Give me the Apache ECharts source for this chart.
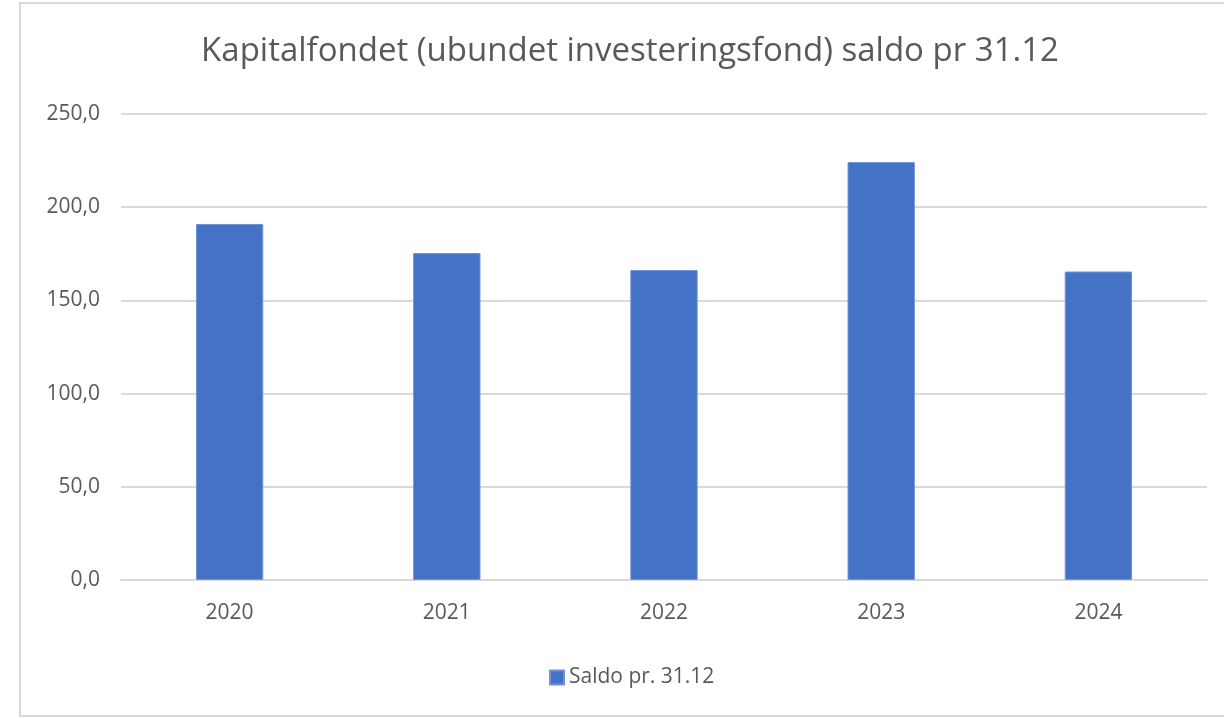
<!DOCTYPE html>
<html>
<head>
<meta charset="utf-8">
<script src="https://cdn.jsdelivr.net/npm/echarts@6/dist/echarts.min.js"></script>
<style>
    html, body { margin: 0; padding: 0; background: #fff; }
    #chart { width: 1224px; height: 718px; }
</style>
</head>
<body>
<div id="chart"></div>
<script>
    // data
    var years = ['2020', '2021', '2022', '2023', '2024'];
    var saldo = [191.0, 175.4, 166.3, 224.2, 165.5];
    var yTicks = [0, 50, 100, 150, 200, 250];
    var seriesName = 'Saldo pr. 31.12';
    var titleText = 'Kapitalfondet (ubundet investeringsfond) saldo pr 31.12';

    var font = '"Open Sans", "Noto Sans", sans-serif';
    var textColor = '#595959';

    var myChart = echarts.init(document.getElementById('chart'));
    myChart.setOption({
        animation: false,
        backgroundColor: '#fff',
        title: {
            text: titleText,
            left: 625,
            textAlign: 'center',
            top: 30,
            textStyle: { fontFamily: font, fontSize: 33, fontWeight: 'normal', color: textColor }
        },
        graphic: [{
            type: 'rect',
            shape: { x: 20, y: 3, width: 1230, height: 713 },
            style: { fill: 'none', stroke: '#d9d9d9', lineWidth: 2 },
            silent: true
        }],
        legend: {
            data: [seriesName],
            left: 544,
            top: 662,
            itemWidth: 14,
            itemHeight: 14,
            itemGap: 6,
            icon: 'rect',
            textStyle: { fontFamily: font, fontSize: 21, color: textColor }
        },
        grid: { left: 121, right: 17, top: 114, bottom: 138 },
        xAxis: {
            type: 'category',
            data: years,
            axisLine: { lineStyle: { color: '#d9d9d9', width: 2 } },
            axisTick: { show: false },
            axisLabel: { fontFamily: font, fontSize: 21, color: textColor, margin: 23 }
        },
        yAxis: {
            type: 'value',
            min: yTicks[0],
            max: yTicks[yTicks.length - 1],
            interval: 50,
            axisLine: { show: false },
            axisTick: { show: false },
            splitLine: { lineStyle: { color: '#d9d9d9', width: 2 } },
            axisLabel: {
                fontFamily: font, fontSize: 21, color: textColor, margin: 21,
                formatter: function (v) { return v.toFixed(1).replace('.', ','); }
            }
        },
        series: [{
            name: seriesName,
            type: 'bar',
            data: saldo,
            barWidth: '31%',
            itemStyle: { color: '#4472C4', borderColor: '#6f93d6', borderWidth: 1 }
        }]
    });
</script>
</body>
</html>
